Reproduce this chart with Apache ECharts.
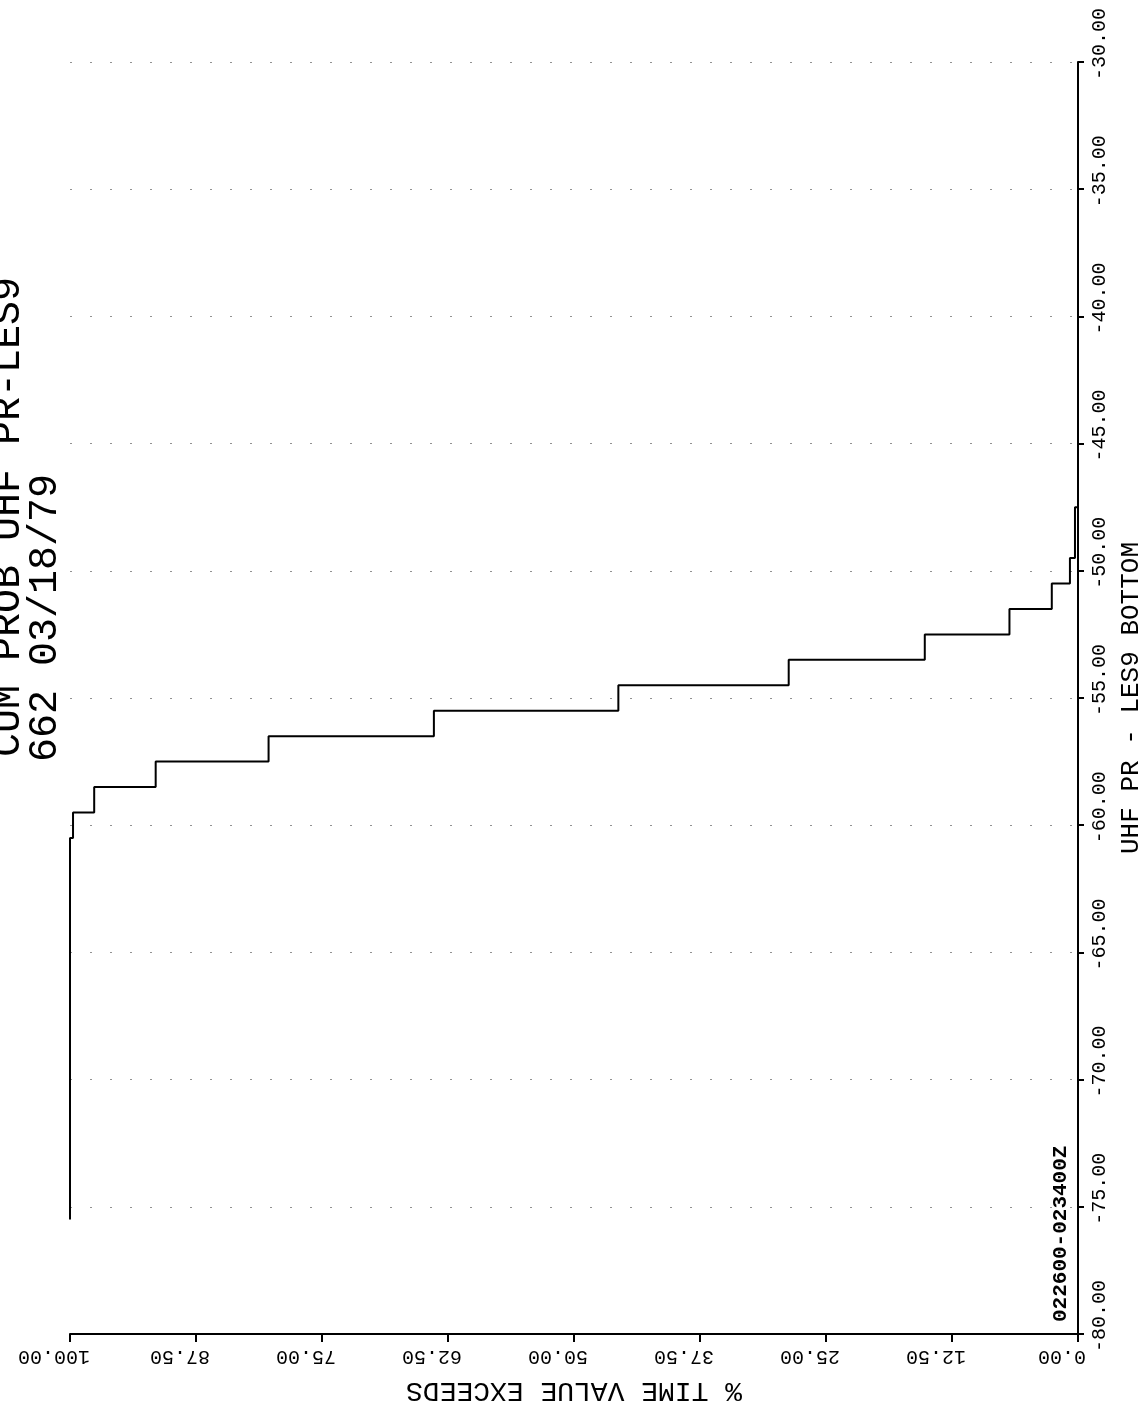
<!DOCTYPE html>
<html>
<head>
<meta charset="utf-8">
<script src="https://cdn.jsdelivr.net/npm/echarts@6/dist/echarts.min.js"></script>
<style>
  html, body { margin: 0; padding: 0; background: #fff; overflow: hidden; }
  #chart { width: 1139px; height: 1401px; }
</style>
</head>
<body>
<div id="chart"></div>
<script>
// % of time the value exceeds (vertex x positions of the step curve)
const exceedPct = [100, 100, 99.7, 97.6, 91.5, 80.3, 63.9, 45.6, 28.7, 15.2, 6.8, 2.6, 0.8, 0.3, 0];
// UHF PR - LES9 BOTTOM level (dB) at each vertex
const levelDb = [-75.5, -60.5, -59.5, -58.5, -57.5, -56.5, -55.5, -54.5, -53.5, -52.5, -51.5, -50.5, -49.5, -47.5, -47.5];

const titleLine1 = 'CUM PROB UHF PR-LES9';
const titleLine2 = '662 03/18/79';
const timeTag = '022600-023400Z';
const xName = '% TIME VALUE EXCEEDS';
const yName = 'UHF PR - LES9 BOTTOM';

const FONT = '"Liberation Mono", "DejaVu Sans Mono", monospace';

const chart = echarts.init(document.getElementById('chart'), null, { renderer: 'canvas', width: 1139, height: 1401 });

const option = {
  animation: false,
  backgroundColor: '#ffffff',
  grid: { left: 70, right: 61, top: 62, bottom: 67, containLabel: false, outerBoundsMode: 'none' },
  xAxis: {
    type: 'value',
    min: 0, max: 100, interval: 12.5,
    inverse: true,
    position: 'bottom',
    name: xName,
    nameLocation: 'middle',
    nameRotate: 180,
    nameGap: 42,
    nameTextStyle: { fontFamily: FONT, fontSize: 28, color: '#000' },
    axisLine: { show: true, onZero: false, lineStyle: { color: '#000', width: 2 } },
    axisTick: { show: true, length: 8, lineStyle: { color: '#000', width: 2 } },
    axisLabel: {
      rotate: 180, margin: 12, color: '#000', fontFamily: FONT, fontSize: 20,
      padding: [0, 0, 0, 32],
      showMinLabel: true, showMaxLabel: true,
      formatter: v => v.toFixed(2)
    },
    splitLine: { show: false }
  },
  yAxis: {
    type: 'value',
    min: -80, max: -30, interval: 5,
    position: 'right',
    name: yName,
    nameLocation: 'middle',
    nameRotate: 90,
    nameGap: 36,
    nameTextStyle: { fontFamily: FONT, fontSize: 26, color: '#000' },
    axisLine: { show: true, onZero: false, lineStyle: { color: '#000', width: 2 } },
    axisTick: { show: true, length: 6, lineStyle: { color: '#000', width: 2 } },
    axisLabel: {
      rotate: 90, margin: 12, color: '#000', fontFamily: FONT, fontSize: 20,
      padding: [0, 0, 0, 36],
      showMinLabel: true, showMaxLabel: true,
      formatter: v => v.toFixed(2)
    },
    splitLine: { show: true, lineStyle: { color: '#777', width: 1, type: [2, 18], opacity: 0.8 } }
  },
  series: [{
    type: 'line',
    step: 'end',
    showSymbol: false,
    symbol: 'none',
    data: exceedPct.map((p, i) => [p, levelDb[i]]),
    lineStyle: { color: '#000', width: 2 },
    z: 5
  }],
  graphic: [
    {
      type: 'text', x: 8, y: 757, rotation: Math.PI / 2,
      style: { text: titleLine1, font: '40px ' + FONT, fill: '#000',
               align: 'left', verticalAlign: 'middle', textAlign: 'left', textVerticalAlign: 'middle' }
    },
    {
      type: 'text', x: 45, y: 762, rotation: Math.PI / 2,
      style: { text: titleLine2, font: '40px ' + FONT, fill: '#000',
               align: 'left', verticalAlign: 'middle', textAlign: 'left', textVerticalAlign: 'middle' }
    },
    {
      type: 'text', x: 1061, y: 1322, rotation: Math.PI / 2,
      style: { text: timeTag, font: 'bold 21px ' + FONT, fill: '#000',
               align: 'left', verticalAlign: 'middle', textAlign: 'left', textVerticalAlign: 'middle' }
    }
  ]
};

chart.setOption(option);
</script>
</body>
</html>
